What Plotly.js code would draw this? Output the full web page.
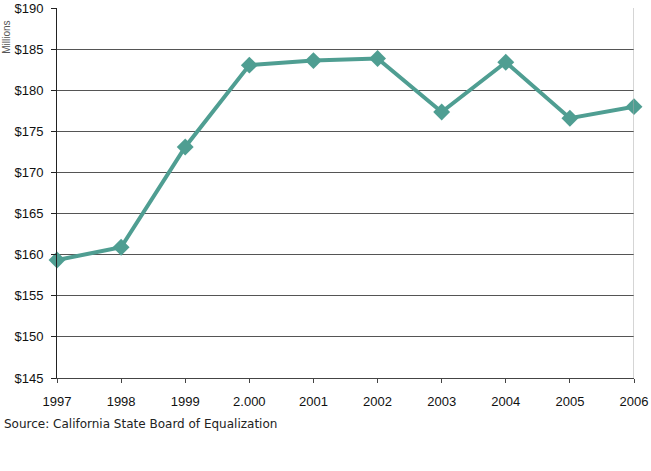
<!DOCTYPE html>
<html><head><meta charset="utf-8">
<script src="https://cdn.plot.ly/plotly-3.0.1.min.js"></script>
<style>html,body{margin:0;padding:0;background:#fff;}#chart{width:651px;height:471px;}</style>
</head><body><div id="chart"></div>
<script>
var years = ['1997','1998','1999','2.000','2001','2002','2003','2004','2005','2006'];
var values = [159.35, 160.9, 173.1, 183.05, 183.6, 183.85, 177.35, 183.4, 176.6, 178.0];
var yTicks = [145,150,155,160,165,170,175,180,185,190];
var yTickText = yTicks.map(function(v){return '$'+v;});
var xIdx = years.map(function(_, i){return i;});

var trace = {
  x: xIdx, y: values, type: 'scatter', mode: 'lines+markers',
  line: {color: '#4f9e92', width: 4},
  marker: {symbol: 'diamond', size: 13, color: '#4f9e92'},
  cliponaxis: false, hoverinfo: 'none'
};
var layout = {
  width: 651, height: 471,
  margin: {l: 57, r: 17, t: 8, b: 93},
  paper_bgcolor: '#fff', plot_bgcolor: '#fff',
  showlegend: false,
  font: {family: '"Liberation Sans", Arimo, Arial, sans-serif', size: 13, color: '#111'},
  xaxis: {
    range: [0, 9], tickmode: 'array', tickvals: xIdx, ticktext: years,
    showgrid: false, zeroline: false, showline: true, linecolor: '#444', linewidth: 1,
    ticks: 'outside', ticklen: 4, tickcolor: '#444', ticklabelstandoff: 7,
    tickfont: {size: 13}
  },
  yaxis: {
    range: [145, 190], tickmode: 'array', tickvals: yTicks, ticktext: yTickText,
    showgrid: true, gridcolor: '#555', gridwidth: 1, zeroline: false,
    showline: true, linecolor: '#222', linewidth: 1,
    ticks: 'outside', ticklen: 5, tickcolor: '#222', ticklabelstandoff: 5,
    tickfont: {size: 13}
  },
  shapes: [{type: 'line', xref: 'x', yref: 'paper', x0: 9, x1: 9, y0: 0, y1: 1,
    line: {color: '#aaa', width: 1}}],
  annotations: [
    {text: 'Source: California State Board of Equalization', xref: 'paper', yref: 'paper',
     x: -0.095, y: -0.125, xanchor: 'left', yanchor: 'middle', showarrow: false,
     font: {family: '"DejaVu Sans", sans-serif', size: 12, color: '#222'}},
    {text: 'Millions', xref: 'paper', yref: 'paper', x: -0.088, y: 0.92, xanchor: 'center',
     yanchor: 'middle', textangle: -90, showarrow: false,
     font: {size: 10, color: '#555'}}
  ]
};
Plotly.newPlot('chart', [trace], layout, {staticPlot: true, displayModeBar: false});
</script></body></html>
